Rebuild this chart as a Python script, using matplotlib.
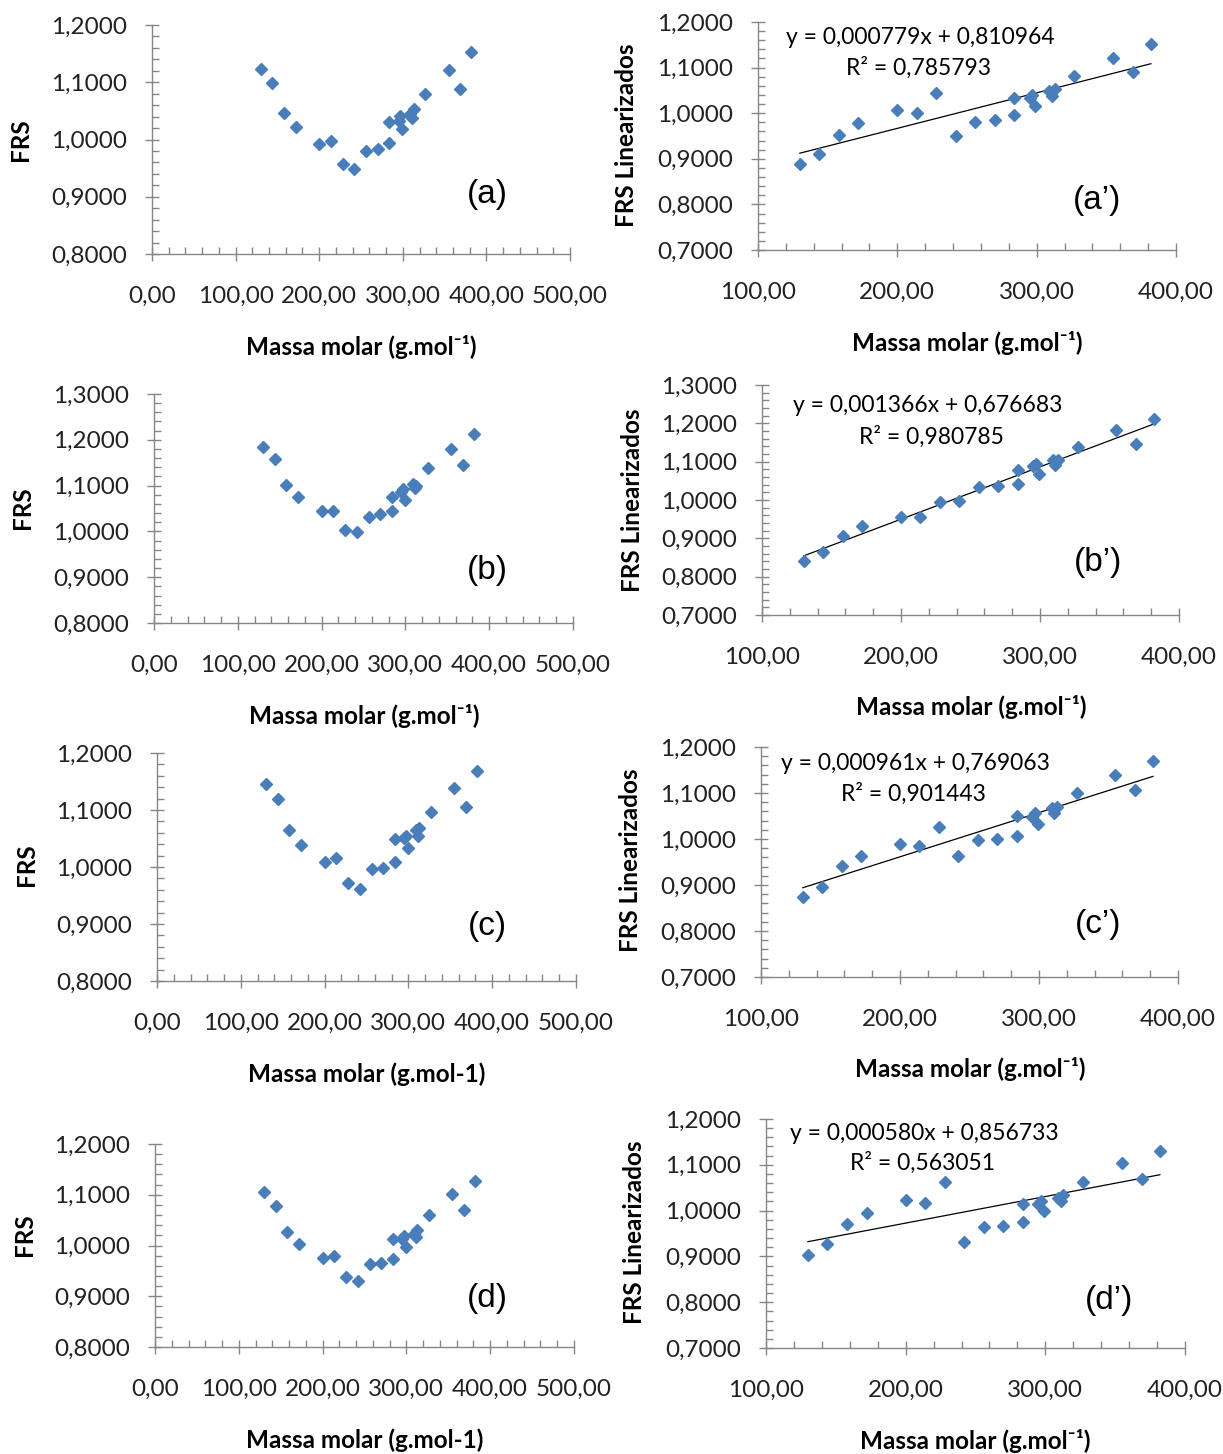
import matplotlib
matplotlib.use("Agg")
import matplotlib.pyplot as plt
import numpy as np
from matplotlib.ticker import MultipleLocator, FuncFormatter

plt.rcParams["font.family"] = ["Lato", "DejaVu Sans"]

W, H = 1223, 1454

# molar masses (g/mol), shared by all panels
mass = [130, 144, 158, 172, 200, 214, 228, 242, 256, 270, 284, 284,
        295, 297, 299, 309, 311, 313, 327, 355, 369, 382]

frs_a = [1.124, 1.098, 1.046, 1.022, 0.993, 0.998, 0.957, 0.948, 0.980, 0.983, 1.031, 0.994,
         1.033, 1.041, 1.018, 1.045, 1.037, 1.053, 1.080, 1.121, 1.089, 1.152]
lin_a = [0.888, 0.910, 0.953, 0.979, 1.006, 1.000, 1.044, 0.949, 0.981, 0.984, 1.033, 0.995,
         1.033, 1.040, 1.016, 1.048, 1.037, 1.052, 1.081, 1.122, 1.090, 1.152]
frs_b = [1.185, 1.157, 1.102, 1.075, 1.045, 1.045, 1.004, 0.998, 1.032, 1.037, 1.076, 1.044,
         1.086, 1.092, 1.068, 1.103, 1.094, 1.100, 1.139, 1.181, 1.146, 1.213]
lin_b = [0.841, 0.864, 0.907, 0.931, 0.956, 0.955, 0.995, 0.997, 1.035, 1.036, 1.078, 1.043,
         1.088, 1.095, 1.069, 1.104, 1.091, 1.104, 1.139, 1.182, 1.145, 1.211]
frs_c = [1.145, 1.119, 1.065, 1.038, 1.009, 1.016, 0.972, 0.962, 0.996, 0.999, 1.049, 1.009,
         1.050, 1.054, 1.034, 1.065, 1.054, 1.068, 1.097, 1.139, 1.106, 1.169]
lin_c = [0.874, 0.896, 0.941, 0.963, 0.989, 0.984, 1.027, 0.964, 0.998, 1.000, 1.050, 1.007,
         1.048, 1.056, 1.033, 1.067, 1.056, 1.070, 1.099, 1.139, 1.106, 1.170]
frs_d = [1.106, 1.078, 1.027, 1.003, 0.975, 0.980, 0.937, 0.930, 0.964, 0.965, 1.013, 0.974,
         1.013, 1.019, 0.997, 1.023, 1.017, 1.030, 1.061, 1.101, 1.069, 1.128]
lin_d = [0.902, 0.926, 0.971, 0.995, 1.023, 1.017, 1.063, 0.932, 0.964, 0.967, 1.014, 0.975,
         1.015, 1.020, 0.999, 1.027, 1.020, 1.034, 1.063, 1.104, 1.070, 1.131]

slopes = [0.000779, 0.001366, 0.000961, 0.000580]
intercepts = [0.810964, 0.676683, 0.769063, 0.856733]
r2 = ["0,785793", "0,980785", "0,901443", "0,563051"]
eq_text = ["y = 0,000779x + 0,810964", "y = 0,001366x + 0,676683",
           "y = 0,000961x + 0,769063", "y = 0,000580x + 0,856733"]

left_ylim = [(0.8, 1.2), (0.8, 1.3), (0.8, 1.2), (0.8, 1.2)]
right_ylim = [(0.7, 1.2), (0.7, 1.3), (0.7, 1.2), (0.7, 1.2)]
left_xlabels = ["Massa molar (g.mol\u207b\u00b9)", "Massa molar (g.mol\u207b\u00b9)",
                "Massa molar (g.mol-1)", "Massa molar (g.mol-1)"]
right_xlabel = "Massa molar (g.mol\u207b\u00b9)"
left_tags = ["(a)", "(b)", "(c)", "(d)"]
right_tags = ["(a\u2019)", "(b\u2019)", "(c\u2019)", "(d\u2019)"]

frs_all = [frs_a, frs_b, frs_c, frs_d]
lin_all = [lin_a, lin_b, lin_c, lin_d]

# axes boxes in pixels: left, right, top, bottom
left_boxes = [(152, 570, 25, 254), (154, 573, 394, 623), (157, 576, 753, 981), (155, 574, 1144, 1347)]
right_boxes = [(758, 1176, 22, 250), (762, 1179, 385, 615), (761, 1178, 747, 977), (766, 1185, 1119, 1348)]

# text anchor positions in pixels
left_ylab = [(20, 140), (22, 508), (27, 865), (25, 1235)]
right_ylab = [(627, 135), (632, 500), (630, 860), (635, 1232)]
left_xlab = [(361, 347), (364, 716), (367, 1074), (365, 1440)]
right_xlab = [(967, 343), (971, 707), (970, 1069), (975, 1441)]
left_tag_pos = [(487, 195), (487, 570), (487, 927), (487, 1298)]
right_tag_pos = [(1097, 200), (1098, 563), (1098, 925), (1109, 1300)]
eq_pos = [(920, 37), (928, 406), (915, 763), (924, 1133)]
r2_pos = [(918, 68), (931, 437), (913, 794), (922, 1163)]

BLUE = "#4a7ebb"
GRAY = "#868686"
TICK_FS = 17.5
LABEL_FS = 17.5

fig = plt.figure(figsize=(W / 100, H / 100), dpi=100)


def px_axes(box):
    l, r, t, b = box
    return fig.add_axes([l / W, 1 - b / H, (r - l) / W, (b - t) / H])


def fig_text(pos, s, **kw):
    fig.text(pos[0] / W, 1 - pos[1] / H, s, ha="center", va="center", **kw)


def style_axes(ax, xlim, ylim, xdec, ydec):
    ax.set_xlim(*xlim)
    ax.set_ylim(*ylim)
    ax.xaxis.set_major_locator(MultipleLocator(100))
    ax.xaxis.set_minor_locator(MultipleLocator(20))
    ax.yaxis.set_major_locator(MultipleLocator(0.1))
    ax.yaxis.set_minor_locator(MultipleLocator(0.02))
    ax.xaxis.set_major_formatter(FuncFormatter(lambda v, p: f"{v:.{xdec}f}".replace(".", ",")))
    ax.yaxis.set_major_formatter(FuncFormatter(lambda v, p: f"{v:.{ydec}f}".replace(".", ",")))
    for side in ["top", "right"]:
        ax.spines[side].set_visible(False)
    for side in ["left", "bottom"]:
        ax.spines[side].set_color(GRAY)
        ax.spines[side].set_linewidth(1.0)
    ax.tick_params(which="major", direction="inout", length=10, width=1.0, color=GRAY,
                   labelsize=TICK_FS, labelcolor="#222222")
    ax.tick_params(axis="y", which="major", pad=13)
    ax.tick_params(axis="x", which="major", pad=18)
    ax.tick_params(which="minor", direction="in", length=5, width=1.0, color=GRAY)
    ax.patch.set_alpha(0)


for i in range(4):
    ax = px_axes(left_boxes[i])
    ax.plot(mass, frs_all[i], linestyle="none", marker="D", markersize=6.5,
            color=BLUE, markeredgecolor=BLUE, clip_on=False)
    style_axes(ax, (0, 500), left_ylim[i], 2, 4)
    fig_text(left_ylab[i], "FRS", rotation=90, fontsize=LABEL_FS, fontweight="bold")
    fig_text(left_xlab[i], left_xlabels[i], fontsize=LABEL_FS, fontweight="bold")
    fig_text(left_tag_pos[i], left_tags[i], fontsize=24, family="Liberation Sans")

    ax = px_axes(right_boxes[i])
    xs = np.array([min(mass), max(mass)])
    ax.plot(xs, slopes[i] * xs + intercepts[i], color="black", linewidth=0.9)
    ax.plot(mass, lin_all[i], linestyle="none", marker="D", markersize=6.5,
            color=BLUE, markeredgecolor=BLUE, clip_on=False)
    style_axes(ax, (100, 400), right_ylim[i], 2, 4)
    fig_text(right_ylab[i], "FRS Linearizados", rotation=90, fontsize=LABEL_FS, fontweight="bold")
    fig_text(right_xlab[i], right_xlabel, fontsize=LABEL_FS, fontweight="bold")
    fig_text(right_tag_pos[i], right_tags[i], fontsize=24, family="Liberation Sans")
    fig_text(eq_pos[i], eq_text[i], fontsize=16.5)
    fig_text(r2_pos[i], "R\u00b2 = " + r2[i], fontsize=16.5)

fig.savefig("out.png", dpi=100)
